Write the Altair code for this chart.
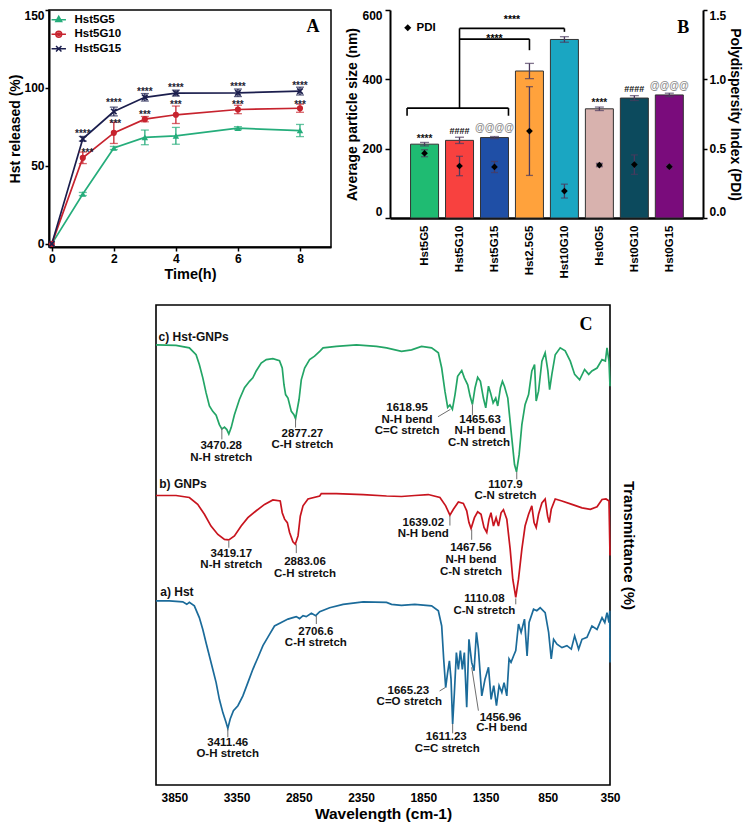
import json
import altair as alt
import pandas as pd

FONT = "Liberation Sans"
SERIF = "Liberation Serif"

# ---------------- Panel A: Hst release profile ----------------
time_h = [0, 1, 2, 3, 4, 6, 8]
series_a = ["Hst5G5", "Hst5G10", "Hst5G15"]
colors_a = ["#25ad7b", "#c7232e", "#1b1e4d"]
g5_mean = [0, 32.0, 61.5, 68.3, 69.3, 74.2, 72.7]
g5_err = [0, 1.0, 1.0, 4.7, 5.4, 1.0, 3.9]
g10_mean = [0, 55.2, 71.2, 80.0, 82.8, 86.2, 87.0]
g10_err = [0, 3.7, 6.8, 1.7, 5.6, 2.7, 2.6]
g15_mean = [0, 67.4, 84.9, 94.0, 96.7, 96.9, 98.0]
g15_err = [0, 1.5, 2.8, 2.4, 1.9, 2.4, 2.5]
sig_a_t = [1, 2, 3, 4, 6, 8, 1.15, 2.05, 3, 4, 6, 8]
sig_a_y = [70.3, 90.3, 97.1, 99.8, 100.7, 101.5, 58.3, 76.9, 82.6, 89.1, 89.1, 89.1]
sig_a_txt = ["****", "****", "****", "****", "****", "****",
             "***", "***", "***", "***", "***", "***"]
letter_a = {"t": [8.42], "y": [139], "txt": ["A"]}

# ---------------- Panel B: particle size / PDI ----------------
cats_b = ["Hst5G5", "Hst5G10", "Hst5G15", "Hst2.5G5", "Hst10G10", "Hst0G5", "Hst0G10", "Hst0G15"]
idx_b = [0, 1, 2, 3, 4, 5, 6, 7]
size_nm = [213, 224, 232, 424, 515, 315, 346, 355]
size_err = [5, 9, 3, 22, 8, 5, 7, 5]
pdi_val = [0.467, 0.375, 0.368, 0.627, 0.194, 0.382, 0.385, 0.370]
pdi_err = [0.025, 0.07, 0.04, 0.32, 0.05, 0.012, 0.07, 0.015]
bar_colors = ["#1fbb72", "#f8413f", "#1f4fa6", "#ffa23c", "#1aa6c2", "#d8b2ae", "#0c4a5d", "#7a0c7c"]
sig_b_i = [0, 1, 2, 5, 6, 7]
sig_b_y = [229, 252, 261, 331, 373, 380]
sig_b_txt = ["****", "####", "@@@@", "****", "####", "@@@@"]
sig_b_col = ["#111111", "#111111", "#8c8c8c", "#111111", "#111111", "#8c8c8c"]
sig_b_fs = [10, 9, 10, 10, 9, 10]
br_x = [-0.5, -0.5, 2.4, 1.0, 1.0, 3.0, 1.0, 4.0]
br_x2 = [2.4, -0.5, 2.4, 1.0, 3.0, 3.0, 4.0, 4.0]
br_y = [317, 295, 295, 317, 516, 484, 547, 537]
br_y2 = [317, 317, 317, 547, 516, 516, 547, 547]
br_txt_x = [2.0, 2.5]
br_txt_y = [517, 571]
br_txt = ["****", "****"]
letter_b = {"x": [7.4], "y": [548], "txt": ["B"]}

# ---------------- Panel C: FTIR spectra ----------------
spec_names = ["c) Hst-GNPs", "b) GNPs", "a) Hst"]
spec_colors = ["#23a566", "#c8141e", "#1b6b9a"]
c_wn = [3997, 3836, 3729, 3675, 3649, 3621, 3595, 3568, 3541, 3514, 3488, 3468, 3447, 3428, 3412,
        3393, 3367, 3327, 3286, 3246, 3219, 3192, 3152, 3111, 3058, 3005, 2983, 2969, 2956, 2937,
        2910, 2889, 2876, 2848, 2830, 2803, 2763, 2723, 2682, 2655, 2548, 2387, 2226, 2145, 2025,
        1944, 1864, 1783, 1729, 1702, 1676, 1654, 1636, 1616, 1595, 1574, 1541, 1520, 1493, 1474,
        1455, 1434, 1413, 1391, 1367, 1348, 1326, 1310, 1289, 1268, 1252, 1230, 1214, 1198, 1171,
        1139, 1117, 1101, 1080, 1058, 1032, 1004, 978, 956, 943, 924, 897, 871, 849, 835,
        817, 790, 750, 710, 669, 634, 594, 554, 521, 495, 454, 414, 387, 374, 358, 350]
c_t = [91.9, 91.8, 91.3, 89.9, 87.9, 85.2, 82.2, 79.5, 78.4, 77.6, 75.7, 74.8, 75.2, 74.7, 73.8,
       75.1, 77.7, 80.8, 83.2, 84.5, 85.2, 86.6, 88.2, 88.9, 89.1, 88.7, 87.2, 83.8, 81.8, 81.1,
       78.4, 77.7, 76.9, 80.8, 84.8, 87.2, 88.9, 89.6, 90.6, 91.3, 91.6, 91.9, 91.6, 91.3, 90.6,
       90.9, 91.6, 91.3, 90.3, 87.2, 82.5, 79.2, 79.7, 78.8, 81.8, 85.5, 86.7, 85.2, 83.8, 81.5,
       79.8, 83.2, 85.3, 84.5, 81.1, 79.1, 83.5, 82.2, 80.1, 81.1, 79.5, 83.2, 84.5, 83.5, 81.1,
       73.0, 67.6, 66.1, 69.6, 75.7, 79.8, 81.8, 86.6, 87.9, 80.5, 82.5, 88.6, 90.3, 86.6, 82.8,
       85.9, 89.9, 91.3, 90.7, 88.6, 85.9, 84.8, 86.9, 85.9, 86.6, 87.2, 88.9, 88.6, 91.3, 88.6, 83.5]
b_wn = [3997, 3836, 3729, 3662, 3608, 3555, 3500, 3447, 3412, 3367, 3313, 3259, 3192, 3125, 3058,
        2999, 2983, 2964, 2942, 2924, 2897, 2878, 2856, 2838, 2816, 2776, 2682, 2669, 2548, 2333,
        2145, 2025, 1918, 1810, 1716, 1670, 1636, 1608, 1568, 1528, 1501, 1483, 1466, 1439, 1413,
        1386, 1362, 1340, 1322, 1306, 1286, 1265, 1246, 1225, 1206, 1179, 1152, 1131, 1107, 1085,
        1058, 1032, 1004, 978, 960, 943, 924, 897, 871, 851, 838, 822, 790, 736, 656,
        575, 508, 454, 414, 382, 358, 350]
b_t = [61.3, 61.3, 60.9, 59.5, 57.5, 55.1, 53.4, 52.4, 52.3, 53.1, 55.1, 56.8, 58.2, 59.5, 60.4,
       60.2, 57.8, 56.5, 55.8, 53.8, 51.9, 51.4, 53.1, 57.1, 59.2, 60.6, 61.2, 61.7, 61.7, 61.5,
       61.2, 61.1, 61.3, 61.5, 60.9, 59.2, 57.3, 58.5, 60.0, 59.7, 58.2, 55.8, 54.6, 56.8, 58.0,
       57.5, 54.8, 53.8, 56.5, 57.8, 55.1, 56.8, 55.1, 57.8, 58.4, 56.5, 50.4, 44.3, 40.6, 44.3,
       50.4, 55.1, 57.5, 59.2, 55.8, 54.8, 57.5, 59.8, 60.6, 57.1, 55.8, 58.5, 60.6, 60.2, 59.5,
       58.8, 58.5, 59.0, 60.5, 60.6, 60.2, 49.1]
a_wn = [3997, 3890, 3782, 3750, 3729, 3689, 3649, 3621, 3595, 3568, 3541, 3514, 3488, 3460, 3434,
        3420, 3401, 3375, 3339, 3299, 3259, 3219, 3178, 3138, 3085, 3045, 2991, 2937, 2897, 2870,
        2844, 2816, 2790, 2749, 2714, 2682, 2602, 2494, 2333, 2145, 2105, 2025, 1918, 1783, 1729,
        1702, 1686, 1670, 1654, 1640, 1627, 1614, 1600, 1584, 1568, 1552, 1536, 1520, 1501, 1483,
        1461, 1442, 1423, 1407, 1380, 1354, 1326, 1305, 1284, 1262, 1241, 1219, 1201, 1179, 1161,
        1145, 1125, 1107, 1085, 1064, 1037, 1016, 1000, 964, 938, 911, 871, 843, 822, 803,
        776, 736, 696, 661, 634, 602, 575, 535, 495, 454, 414, 392, 374, 358, 352, 350]
a_t = [39.9, 39.9, 39.7, 39.2, 39.6, 38.9, 36.5, 34.1, 31.4, 28.7, 26.0, 23.3, 19.9, 17.2, 15.2,
       14.0, 15.9, 17.6, 18.6, 20.6, 23.3, 26.0, 28.4, 30.8, 33.1, 34.8, 35.5, 36.2, 36.5, 36.7,
       36.3, 36.9, 36.7, 37.4, 36.9, 37.7, 38.5, 39.2, 39.7, 39.6, 39.2, 39.0, 39.2, 38.9, 37.9,
       34.8, 28.1, 22.3, 25.4, 27.7, 24.0, 14.9, 21.3, 29.4, 26.0, 29.8, 26.0, 29.4, 18.3, 32.1,
       27.4, 25.7, 33.5, 30.1, 20.6, 24.0, 26.4, 19.9, 22.7, 18.6, 22.7, 21.3, 23.3, 20.6, 28.1,
       27.4, 28.7, 29.8, 35.2, 33.5, 36.2, 28.7, 35.5, 38.2, 37.9, 38.5, 37.5, 33.5, 28.1, 32.1,
       31.1, 30.4, 30.8, 30.1, 32.8, 30.1, 32.1, 32.5, 34.8, 34.1, 36.5, 35.5, 37.5, 35.5, 37.9, 27.4]

peak_wn = [3473, 3473, 2821, 2821, 1980, 1980, 1980, 1394, 1394, 1402, 1190, 1190,
           3392, 3392, 2800, 2800, 1850, 1850, 1467, 1467, 1467, 1359, 1359,
           2713, 2713, 3421, 3421, 1970, 1962, 1665, 1657, 1230, 1219]
peak_t = [71.3, 69.0, 73.8, 71.5, 79.1, 76.7, 74.4, 76.7, 74.4, 72.0, 63.5, 61.3,
          49.5, 47.1, 47.7, 45.3, 55.8, 53.4, 50.7, 48.2, 45.8, 40.2, 37.9,
          33.6, 31.3, 11.0, 8.7, 21.6, 19.3, 12.2, 9.9, 16.2, 14.0]
peak_txt = ["3470.28", "N-H stretch", "2877.27", "C-H stretch", "1618.95", "N-H bend", "C=C stretch",
            "1465.63", "N-H bend", "C-N stretch", "1107.9", "C-N stretch",
            "3419.17", "N-H stretch", "2883.06", "C-H stretch", "1639.02", "N-H bend",
            "1467.56", "N-H bend", "C-N stretch", "1110.08", "C-N stretch",
            "2706.6", "C-H stretch", "3411.46", "O-H stretch", "1665.23", "C=O stretch",
            "1611.23", "C=C stretch", "1456.96", "C-H bend"]
lead_x = [3468, 2876, 1732, 1455, 1099, 3412, 2870, 1636, 1461, 1107, 2709, 3420, 1719, 1614, 1461]
lead_x2 = [3468, 2876, 1632, 1455, 1099, 3412, 2870, 1636, 1461, 1107, 2709, 3420, 1673, 1614, 1407]
lead_y = [75.1, 76.9, 77.3, 79.8, 66.1, 52.1, 51.4, 57.2, 54.4, 40.4, 36.9, 13.9, 21.6, 14.9, 26.4]
lead_y2 = [72.7, 75.1, 78.8, 77.6, 64.6, 50.7, 49.6, 55.2, 52.3, 39.2, 35.2, 12.2, 22.3, 13.0, 17.6]
name_wn = [3976, 3971, 3963]
name_t = [93.4, 63.6, 41.7]
letter_c = {"wn": [543], "T": [95.9], "txt": ["C"]}

# ---------------- shared styles ----------------
AX = dict(labelFont=FONT, labelFontWeight="bold", labelColor="black", titleFont=FONT,
          titleFontWeight="bold", titleColor="black", domainColor="black", tickColor="black",
          grid=False)


def letter_mark(df):
    return alt.Chart(df).mark_text(font=SERIF, fontSize=18, fontWeight="bold", color="black",
                                   align="center", baseline="middle")


# ================= Panel A =================
rows_a = []
for name, col, means, errs in zip(series_a, colors_a, [g5_mean, g10_mean, g15_mean],
                                  [g5_err, g10_err, g15_err]):
    for t, m, e in zip(time_h, means, errs):
        rows_a.append({"series": name, "col": col, "t": t, "m": m, "e": e, "lo": m - e, "hi": m + e})
df_a = pd.DataFrame(rows_a)

axis_xa = alt.Axis(values=[0, 2, 4, 6, 8], title="Time(h)", titleFontSize=14.5, labelFontSize=12,
                   tickSize=4, tickWidth=1.5, domainWidth=2, labelPadding=2, titlePadding=3,
                   labelFlush=False, **AX)
axis_ya = alt.Axis(values=[0, 50, 100, 150], title="Hst released (%)", titleFontSize=14,
                   labelFontSize=12, tickSize=4, tickWidth=1.5, domainWidth=2, labelPadding=1,
                   titlePadding=1, labelFlush=True, **AX)


def xa(f):
    return alt.X(f"{f}:Q", scale=alt.Scale(domain=[-0.09, 9], nice=False, zero=False), axis=axis_xa)


def ya(f):
    return alt.Y(f"{f}:Q", scale=alt.Scale(domain=[-2, 150], nice=False, zero=False), axis=axis_ya)


colA = alt.Color("col:N", scale=None)
X_PATH = "M-1,-1L1,1M-1,1L1,-1"
leg_paths = [
    "M-1.6,0H1.6M0,-0.75L0.65,0.4L-0.65,0.4ZM0,-0.35L0.3,0.2L-0.3,0.2Z",
    "M-1.6,0H1.6M-0.65,0A0.65,0.65 0 1,0 0.65,0A0.65,0.65 0 1,0 -0.65,0ZM-0.3,0A0.3,0.3 0 1,0 0.3,0A0.3,0.3 0 1,0 -0.3,0Z",
    "M-1.6,0H1.6M-0.6,-0.6L0.6,0.6M-0.6,0.6L0.6,-0.6",
]

baseA = alt.Chart(df_a)
lineA = baseA.mark_line(strokeWidth=1.7).encode(x=xa("t"), y=ya("m"), color=colA, detail="series:N")
errA = baseA.transform_filter("datum.e > 0").mark_rule(strokeWidth=1.3).encode(
    x=xa("t"), y=ya("lo"), y2=alt.Y2("hi"), color=colA)
capA_lo = baseA.transform_filter("datum.e > 0").mark_tick(orient="horizontal", size=8, thickness=1.3).encode(
    x=xa("t"), y=ya("lo"), color=colA)
capA_hi = baseA.transform_filter("datum.e > 0").mark_tick(orient="horizontal", size=8, thickness=1.3).encode(
    x=xa("t"), y=ya("hi"), color=colA)
ptA1 = baseA.transform_filter(alt.datum.series == series_a[0]).mark_point(
    shape="triangle-up", filled=True, size=42, opacity=1).encode(x=xa("t"), y=ya("m"), color=colA)
ptA2 = baseA.transform_filter(alt.datum.series == series_a[1]).mark_point(
    shape="circle", filled=True, size=38, opacity=1).encode(x=xa("t"), y=ya("m"), color=colA)
ptA3 = baseA.transform_filter(alt.datum.series == series_a[2]).mark_point(
    shape=X_PATH, filled=False, size=30, strokeWidth=1.7, opacity=1).encode(x=xa("t"), y=ya("m"), color=colA)

df_sig_a = pd.DataFrame({"t": sig_a_t, "y": sig_a_y, "txt": sig_a_txt})
sigA = alt.Chart(df_sig_a).mark_text(font=FONT, fontSize=10, fontWeight="bold", color="#1f1f33").encode(
    x=xa("t"), y=ya("y"), text="txt:N")
letA = letter_mark(pd.DataFrame(letter_a)).encode(x=xa("t"), y=ya("y"), text="txt:N")

legend_a = alt.Legend(title=None, orient="top-left", offset=4, padding=0, symbolSize=81,
                      symbolStrokeWidth=1.5, labelFontSize=11.5, labelFont=FONT, labelFontWeight="bold",
                      labelColor="black", labelOffset=10, rowPadding=1.5, symbolOpacity=1)
legA = baseA.transform_filter("datum.t < -1").mark_point(filled=False, strokeWidth=1.5, opacity=1).encode(
    stroke=alt.Stroke("series:N", scale=alt.Scale(domain=series_a, range=colors_a), legend=legend_a),
    shape=alt.Shape("series:N", scale=alt.Scale(domain=series_a, range=leg_paths), legend=legend_a))

chartA = alt.layer(lineA, errA, capA_lo, capA_hi, ptA1, ptA2, ptA3, sigA, letA, legA).properties(
    width=282, height=237, view=alt.ViewBackground(stroke="black", strokeWidth=1.5))

# ================= Panel B =================
df_b = pd.DataFrame({"i": idx_b, "cat": cats_b, "s": size_nm, "se": size_err,
                     "p": pdi_val, "pe": pdi_err})
df_b["slo"] = df_b["s"] - df_b["se"]
df_b["shi"] = df_b["s"] + df_b["se"]
df_b["plo"] = df_b["p"] - df_b["pe"]
df_b["phi"] = df_b["p"] + df_b["pe"]
df_b["lab"] = ["PDI" for _ in cats_b]

axis_xb = alt.Axis(values=idx_b, labelExpr=f"{json.dumps(cats_b)}[datum.value]", labelAngle=-90,
                   ticks=False, domainWidth=2.5, labelPadding=7, labelFontSize=11.5, title=None,
                   labelFlush=False, **AX)
axis_yb = alt.Axis(values=[0, 200, 400, 600], title="Average particle size (nm)", titleFontSize=14,
                   labelFontSize=12, tickSize=5, tickWidth=1.5, domainWidth=2, labelPadding=3,
                   titlePadding=2, labelFlush=True, **AX)
axis_yp = alt.Axis(orient="right", values=[0, 0.5, 1.0, 1.5], format=".1f",
                   title="Polydispersity Index (PDI)", titleFontSize=14, labelFontSize=12, tickSize=4,
                   tickWidth=1.5, domainWidth=2, labelPadding=2, titlePadding=2, labelFlush=True, **AX)


def xb(f):
    return alt.X(f"{f}:Q", scale=alt.Scale(domain=[-0.845, 7.82], nice=False, zero=False), axis=axis_xb)


def yb(f):
    return alt.Y(f"{f}:Q", scale=alt.Scale(domain=[0, 600], nice=False, zero=False), axis=axis_yb)


def yp(f):
    return alt.Y(f"{f}:Q", scale=alt.Scale(domain=[0, 1.5], nice=False, zero=False), axis=axis_yp)


ERRC = "#4b3a5e"
baseB = alt.Chart(df_b)
bars = baseB.mark_bar(orient="vertical", width=28, stroke="#333333", strokeWidth=1, opacity=1).encode(
    x=xb("i"), y=yb("s"),
    color=alt.Color("cat:N", scale=alt.Scale(domain=cats_b, range=bar_colors), legend=None))
errB = baseB.mark_rule(color=ERRC, strokeWidth=1.3).encode(x=xb("i"), y=yb("slo"), y2=alt.Y2("shi"))
capB_lo = baseB.mark_tick(orient="horizontal", size=9, thickness=1.3, color=ERRC).encode(x=xb("i"), y=yb("slo"))
capB_hi = baseB.mark_tick(orient="horizontal", size=9, thickness=1.3, color=ERRC).encode(x=xb("i"), y=yb("shi"))

df_br = pd.DataFrame({"bx": br_x, "bx2": br_x2, "by": br_y, "by2": br_y2})
brB = alt.Chart(df_br).mark_rule(color="black", strokeWidth=1.6).encode(
    x=xb("bx"), x2=alt.X2("bx2"), y=yb("by"), y2=alt.Y2("by2"))
df_brt = pd.DataFrame({"x": br_txt_x, "y": br_txt_y, "txt": br_txt})
brTxt = alt.Chart(df_brt).mark_text(font=FONT, fontSize=10.5, fontWeight="bold", color="black").encode(
    x=xb("x"), y=yb("y"), text="txt:N")
df_sigb = pd.DataFrame({"i": sig_b_i, "y": sig_b_y, "txt": sig_b_txt, "col": sig_b_col, "fs": sig_b_fs})
sigB = alt.Chart(df_sigb).mark_text(font=FONT, fontWeight="bold").encode(
    x=xb("i"), y=yb("y"), text="txt:N", color=alt.Color("col:N", scale=None),
    size=alt.Size("fs:Q", scale=None))
letB = letter_mark(pd.DataFrame(letter_b)).encode(x=xb("x"), y=yb("y"), text="txt:N")

left_b = alt.layer(bars, errB, capB_lo, capB_hi, brB, brTxt, sigB, letB)

legend_b = alt.Legend(title=None, orient="top-left", offset=12, padding=0, symbolSize=50,
                      labelFontSize=11.5, labelOffset=3, labelFont=FONT, labelFontWeight="bold",
                      labelColor="black", symbolFillColor="black", symbolStrokeWidth=0)
pErr = baseB.mark_rule(color=ERRC, strokeWidth=1.3).encode(x=xb("i"), y=yp("plo"), y2=alt.Y2("phi"))
pCap_lo = baseB.mark_tick(orient="horizontal", size=7, thickness=1.3, color=ERRC).encode(x=xb("i"), y=yp("plo"))
pCap_hi = baseB.mark_tick(orient="horizontal", size=7, thickness=1.3, color=ERRC).encode(x=xb("i"), y=yp("phi"))
pPts = baseB.mark_point(filled=True, color="black", size=45, opacity=1).encode(
    x=xb("i"), y=yp("p"),
    shape=alt.Shape("lab:N", scale=alt.Scale(domain=["PDI"], range=["diamond"]), legend=legend_b))
right_b = alt.layer(pErr, pCap_lo, pCap_hi, pPts)

chartB = alt.layer(left_b, right_b).resolve_scale(y="independent").properties(width=313, height=208)

# ================= Panel C =================
df_c = pd.concat([
    pd.DataFrame({"wn": c_wn, "T": c_t, "spec": spec_names[0]}),
    pd.DataFrame({"wn": b_wn, "T": b_t, "spec": spec_names[1]}),
    pd.DataFrame({"wn": a_wn, "T": a_t, "spec": spec_names[2]}),
], ignore_index=True)

axis_xc = alt.Axis(values=[3850, 3350, 2850, 2350, 1850, 1350, 850, 350], format="d",
                   title="Wavelength (cm-1)", titleFontSize=15.5, labelFontSize=12, ticks=False,
                   domain=False, labelPadding=7, titlePadding=3, labelFlush=False, **AX)
axis_yc = alt.Axis(orient="right", labels=False, ticks=False, domain=False,
                   title="Transmittance (%)", titleFontSize=15, titlePadding=10, **AX)


def xc(f):
    return alt.X(f"{f}:Q", scale=alt.Scale(domain=[350, 3997], reverse=True, nice=False, zero=False),
                 axis=axis_xc)


def yc(f):
    return alt.Y(f"{f}:Q", scale=alt.Scale(domain=[2.5, 100], nice=False, zero=False), axis=axis_yc)


specLines = alt.Chart(df_c).mark_line(strokeWidth=1.7).encode(
    x=xc("wn"), y=yc("T"),
    color=alt.Color("spec:N", scale=alt.Scale(domain=spec_names, range=spec_colors), legend=None))
df_lead = pd.DataFrame({"x": lead_x, "x2": lead_x2, "y": lead_y, "y2": lead_y2})
leads = alt.Chart(df_lead).mark_rule(color="#6e6e6e", strokeWidth=1).encode(
    x=xc("x"), x2=alt.X2("x2"), y=yc("y"), y2=alt.Y2("y2"))
df_peak = pd.DataFrame({"wn": peak_wn, "T": peak_t, "txt": peak_txt})
peaks = alt.Chart(df_peak).mark_text(font=FONT, fontSize=11.5, fontWeight="bold", color="#111111",
                                      align="center", baseline="middle").encode(
    x=xc("wn"), y=yc("T"), text="txt:N")
df_names = pd.DataFrame({"wn": name_wn, "T": name_t, "txt": spec_names})
names = alt.Chart(df_names).mark_text(font=FONT, fontSize=12, fontWeight="bold", color="#111111",
                                       align="left", baseline="middle").encode(
    x=xc("wn"), y=yc("T"), text="txt:N")
letC = letter_mark(pd.DataFrame(letter_c)).encode(x=xc("wn"), y=yc("T"), text="txt:N")

chartC = alt.layer(specLines, leads, peaks, names, letC).properties(
    width=454, height=480, view=alt.ViewBackground(stroke="black", strokeWidth=1.6))

spacer = alt.Chart(pd.DataFrame({"v": [0]})).mark_point(opacity=0).properties(width=102, height=10)

RES = dict(color="independent", shape="independent", stroke="independent")
top_row = alt.hconcat(chartA, chartB, spacing=13).resolve_scale(**RES)
bottom_row = alt.hconcat(spacer, chartC, spacing=0).resolve_scale(**RES)
chart = alt.vconcat(top_row, bottom_row, spacing=22).resolve_scale(**RES).properties(padding=0).configure(
    font=FONT).configure_view(stroke="transparent")

chart.save("out.html", embed_options={"renderer": "svg", "actions": False})
